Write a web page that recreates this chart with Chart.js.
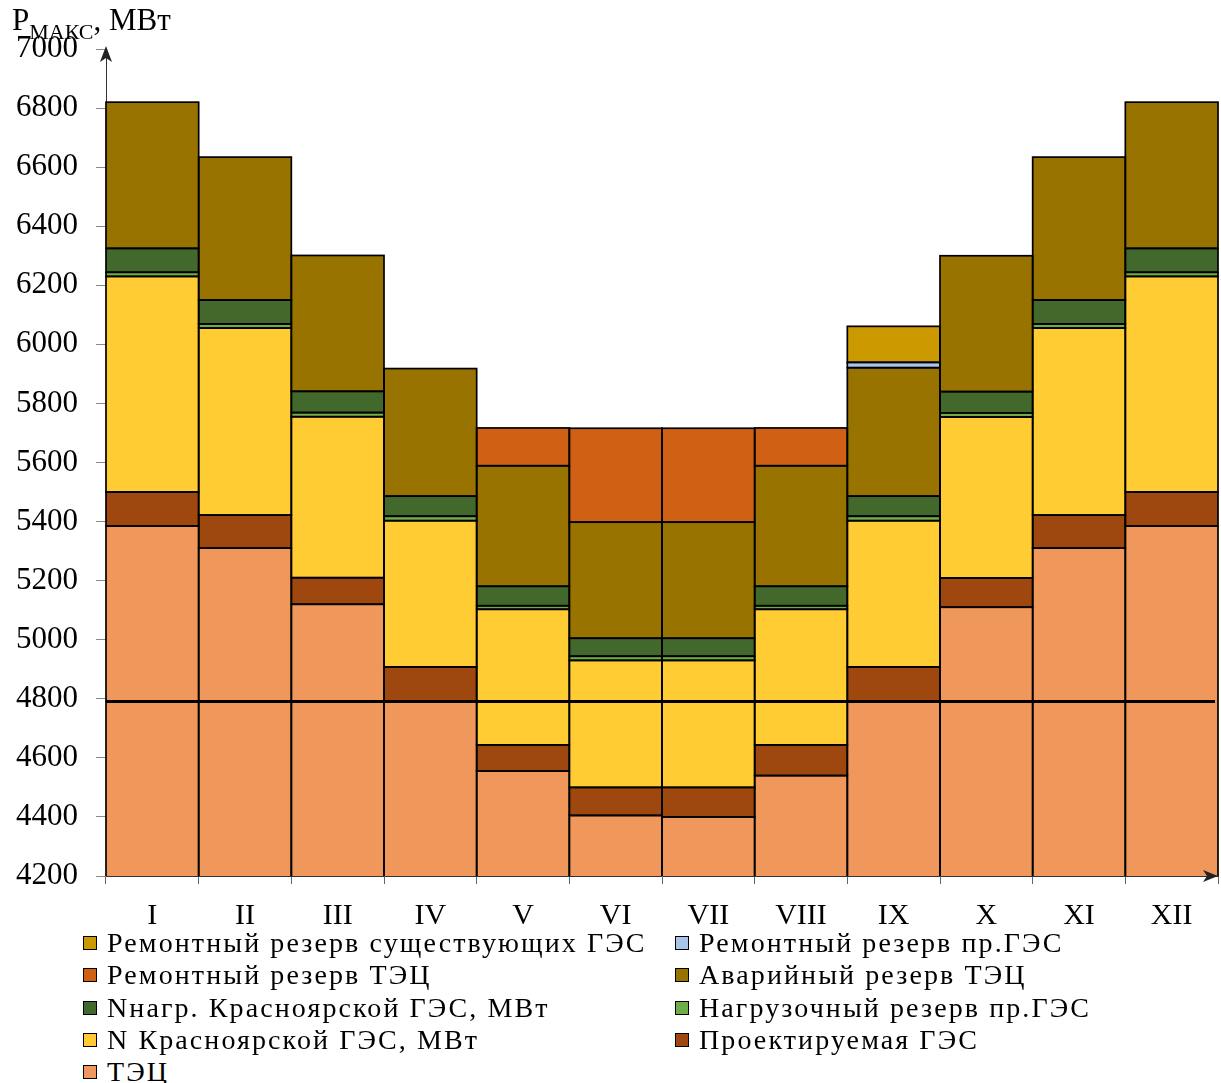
<!DOCTYPE html>
<html>
<head>
<meta charset="utf-8">
<script src="https://cdn.jsdelivr.net/npm/chart.js@4.4.0/dist/chart.umd.min.js"></script>
<style>
  html, body { margin:0; padding:0; background:#fff; }
  body { width:1221px; height:1083px; position:relative; overflow:hidden; font-family:'Liberation Serif',serif; }
  #wrap { position:absolute; left:0; top:0; width:1221px; height:940px; }
  #title { position:absolute; left:12px; top:2px; font-size:31px; line-height:36px; color:#000; white-space:nowrap; }
  #title sub { font-size:22px; vertical-align:-9px; line-height:0; }
  #legend { position:absolute; left:0; top:927px; width:1221px; font-size:28px; letter-spacing:2.1px; color:#000; }
  .li { position:absolute; white-space:nowrap; height:32px; line-height:32px; }
  .mk { position:absolute; left:0; top:9px; width:12px; height:12px; border:1.6px solid #000; }
  .tx { position:absolute; left:24px; top:0; }
</style>
</head>
<body>
<div id="wrap"><canvas id="c" width="1221" height="940"></canvas></div>
<div id="title">P<sub>МАКС</sub>, МВт</div>
<div id="legend"></div>
<script>
// ---- data ----
const months = ['I','II','III','IV','V','VI','VII','VIII','IX','X','XI','XII'];
const yTicks = [4200,4400,4600,4800,5000,5200,5400,5600,5800,6000,6200,6400,6600,6800,7000];
const refLine = 4792;

const tec       = [5385, 5310, 5120, 4790, 4555, 4405, 4400, 4540, 4790, 5110, 5310, 5385]; // ТЭЦ
const projGes   = [ 115,  112,   90,  118,   89,   95,  100,  104,  118,   99,  112,  115]; // Проектируемая ГЭС
const nKras     = [ 730,  633,  545,  495,  459,  430,  430,  459,  495,  545,  633,  730]; // N Красноярской ГЭС
const loadResPr = [  14,   14,   14,   15,   12,   14,   14,   12,   15,   14,   14,   14]; // Нагрузочный резерв пр.ГЭС
const nNagr     = [  81,   81,   72,   68,   66,   61,   61,   66,   68,   72,   81,   81]; // Nнагр. Красноярской ГЭС
const avarTec   = [ 495,  484,  460,  432,  408,  393,  393,  408,  435,  460,  484,  495]; // Аварийный резерв ТЭЦ
const remTec    = [   0,    0,    0,    0,  128,  318,  318,  128,    0,    0,    0,    0]; // Ремонтный резерв ТЭЦ
const remPr     = [   0,    0,    0,    0,    0,    0,    0,    0,   18,    0,    0,    0]; // Ремонтный резерв пр.ГЭС
const remExist  = [   0,    0,    0,    0,    0,    0,    0,    0,  122,    0,    0,    0]; // Ремонтный резерв существующих ГЭС

const series = [
  {label:'ТЭЦ', data:tec, color:'#F0975B'},
  {label:'Проектируемая ГЭС', data:projGes, color:'#9E470E'},
  {label:'N Красноярской ГЭС, МВт', data:nKras, color:'#FFCC33'},
  {label:'Нагрузочный резерв пр.ГЭС', data:loadResPr, color:'#70AD47'},
  {label:'Nнагр. Красноярской ГЭС, МВт', data:nNagr, color:'#43682B'},
  {label:'Аварийный резерв ТЭЦ', data:avarTec, color:'#997300'},
  {label:'Ремонтный резерв ТЭЦ', data:remTec, color:'#D06014'},
  {label:'Ремонтный резерв пр.ГЭС', data:remPr, color:'#A9C4EB'},
  {label:'Ремонтный резерв существующих ГЭС', data:remExist, color:'#CC9900'}
];

const FONT = "'Liberation Serif', serif";
Chart.defaults.font.family = FONT;

const extras = {
  id:'extras',
  afterDatasetsDraw(chart){
    const {ctx, chartArea:a, scales:{y}} = chart;
    ctx.save();
    ctx.beginPath();
    ctx.rect(a.left - 1, a.top - 2, a.right - a.left + 2, a.bottom - a.top + 2);
    ctx.clip();
    // outline each stacked segment (positions from Chart.js elements)
    ctx.strokeStyle = '#000';
    ctx.lineWidth = 1.7;
    chart.data.datasets.forEach((ds, di) => {
      const meta = chart.getDatasetMeta(di);
      meta.data.forEach((el, i) => {
        if (ds.data[i] == null) return;
        const p = el.getProps(['x','y','base','width'], true);
        const top = Math.min(p.y, p.base), h = Math.abs(p.base - p.y);
        ctx.strokeRect(p.x - p.width/2, top, p.width, h);
      });
    });
    ctx.restore();
    // reference horizontal line
    const py = Math.round(y.getPixelForValue(refLine)) + 0.5;
    ctx.save();
    ctx.strokeStyle = '#000';
    ctx.lineWidth = 3;
    ctx.beginPath(); ctx.moveTo(a.left, py); ctx.lineTo(a.right-3, py); ctx.stroke();
    ctx.restore();
  },
  afterDraw(chart){
    const {ctx, chartArea:a} = chart;
    ctx.save();
    ctx.fillStyle = '#222';
    ctx.beginPath();
    ctx.moveTo(a.left, a.top-3); ctx.lineTo(a.left-6, a.top+13); ctx.lineTo(a.left, a.top+9); ctx.lineTo(a.left+6, a.top+13); ctx.closePath(); ctx.fill();
    ctx.beginPath();
    ctx.moveTo(a.right, a.bottom); ctx.lineTo(a.right-15, a.bottom-6); ctx.lineTo(a.right-11, a.bottom); ctx.lineTo(a.right-15, a.bottom+6); ctx.closePath(); ctx.fill();
    ctx.restore();
  }
};

const chart = new Chart(document.getElementById('c'), {
  type:'bar',
  data:{
    labels: months,
    datasets: series.map(s => ({
      label: s.label,
      data: s.data.map(v => v === 0 ? null : v),
      backgroundColor: s.color,
      borderWidth: 0,
      barPercentage: 1,
      categoryPercentage: 1,
      inflateAmount: 0
    }))
  },
  options:{
    responsive:false,
    animation:false,
    layout:{ padding:{ left:0, right:3, top:49, bottom:0 } },
    plugins:{ legend:{display:false}, tooltip:{enabled:false} },
    scales:{
      x:{
        stacked:true,
        grid:{ display:true, drawOnChartArea:false, drawTicks:true, tickLength:8, color:'#666', offset:true },
        border:{ display:true, color:'#333', width:1 },
        ticks:{ font:{family:FONT, size:30}, color:'#000', padding:14, maxRotation:0 },
        afterFit(s){ s.height = 64; }
      },
      y:{
        stacked:true,
        min:4200, max:7000,
        afterBuildTicks(s){ s.ticks = yTicks.map(v => ({value:v})); },
        grid:{ display:true, drawOnChartArea:false, drawTicks:true, tickLength:10, color:'#888' },
        border:{ display:true, color:'#333', width:1 },
        ticks:{ font:{family:FONT, size:31}, color:'#000', padding:18, callback:v => String(v) },
        afterFit(s){ s.width = 106; }
      }
    }
  },
  plugins:[extras]
});

// legend (reverse stacking order, two columns)
const leg = document.getElementById('legend');
const items = series.slice().reverse();
items.forEach((s,i) => {
  const col = i % 2, row = Math.floor(i/2);
  const d = document.createElement('div');
  d.className = 'li';
  d.style.left = (col === 0 ? 83 : 675) + 'px';
  d.style.top = (row * 32.3) + 'px';
  d.innerHTML = '<span class="mk" style="background:'+s.color+'"></span><span class="tx"></span>';
  d.querySelector('.tx').textContent = s.label;
  leg.appendChild(d);
});
</script>
</body>
</html>
